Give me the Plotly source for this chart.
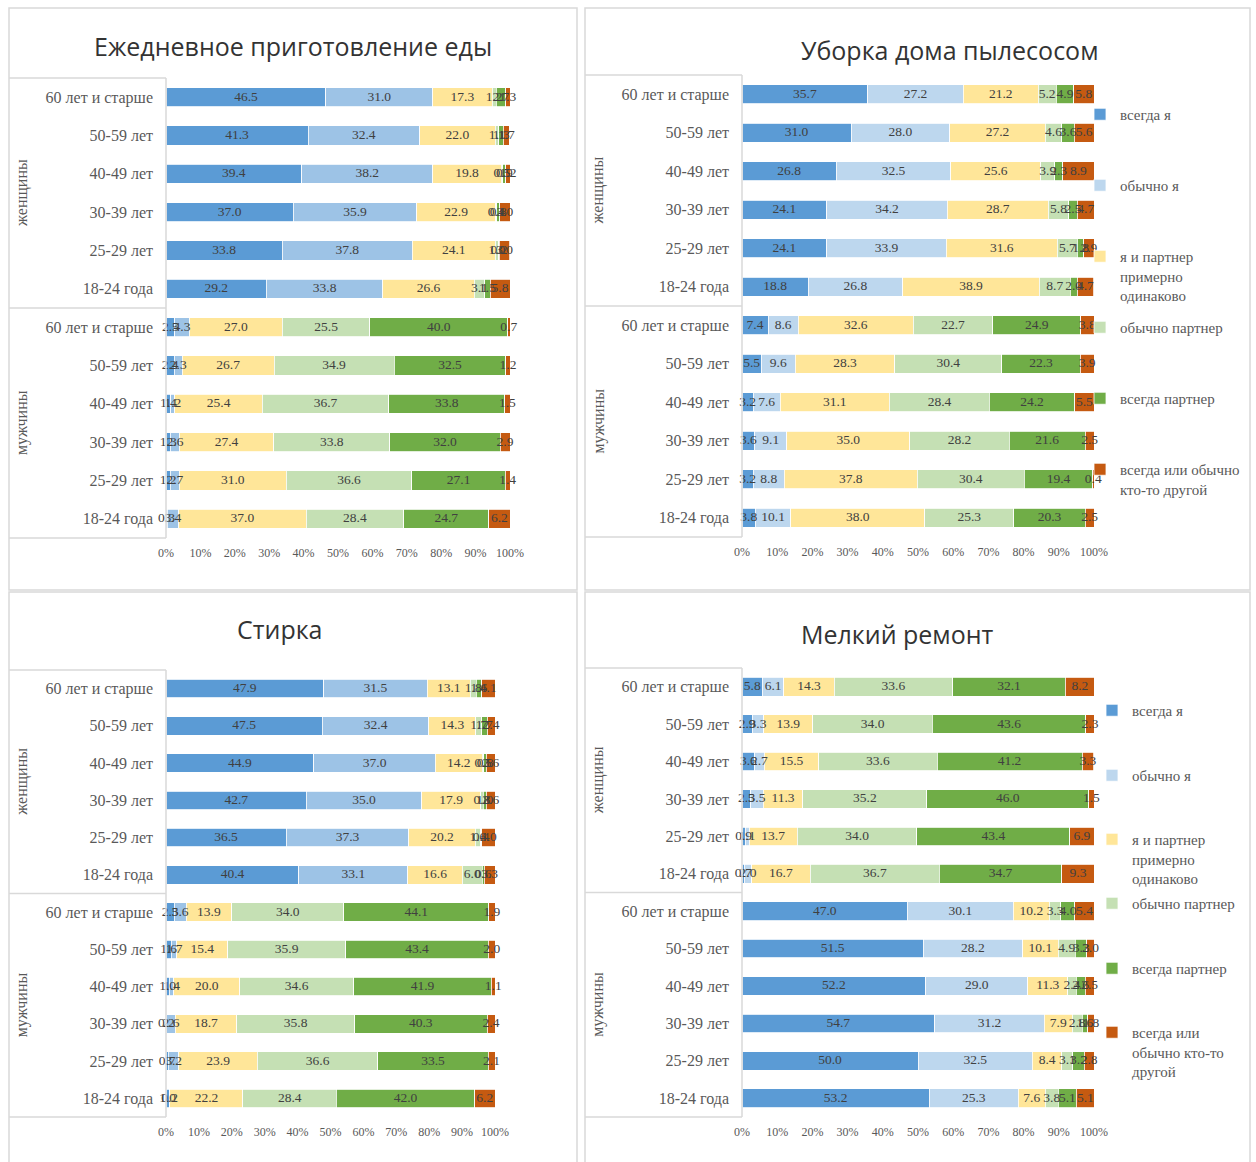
import plotly.graph_objects as go

W, H = 1256, 1162

# ---------------- data ----------------
GENDERS = ["женщины", "мужчины"]
AGES = ["60 лет и старше", "50-59 лет", "40-49 лет", "30-39 лет", "25-29 лет", "18-24 года"]
SERIES = ["всегда я", "обычно я", "я и партнер примерно одинаково",
          "обычно партнер", "всегда партнер", "всегда или обычно кто-то другой"]
LEGEND_P2 = ["всегда я", "обычно я", "я и партнер<br>примерно<br>одинаково",
             "обычно партнер", "всегда партнер", "всегда или обычно<br>кто-то другой"]
LEGEND_P4 = ["всегда я", "обычно я", "я и партнер<br>примерно<br>одинаково",
             "обычно партнер", "всегда партнер", "всегда или<br>обычно кто-то<br>другой"]
TITLES = ["Ежедневное приготовление еды", "Уборка дома пылесосом", "Стирка", "Мелкий ремонт"]
X_TICKS = [0, 10, 20, 30, 40, 50, 60, 70, 80, 90, 100]
X_TICK_TEXT = ["0%", "10%", "20%", "30%", "40%", "50%", "60%", "70%", "80%", "90%", "100%"]

# rows: women 60+ .. 18-24, then men 60+ .. 18-24
cooking_always_me   = [46.5, 41.3, 39.4, 37.0, 33.8, 29.2, 2.5, 2.4, 1.4, 1.3, 1.2, 0.3]
cooking_usually_me  = [31.0, 32.4, 38.2, 35.9, 37.8, 33.8, 4.3, 2.3, 1.2, 2.6, 2.7, 3.4]
cooking_equal       = [17.3, 22.0, 19.8, 22.9, 24.1, 26.6, 27.0, 26.7, 25.4, 27.4, 31.0, 37.0]
cooking_usually_p   = [1.2, 1.1, 0.5, 0.4, 1.0, 3.1, 25.5, 34.9, 36.7, 33.8, 36.6, 28.4]
cooking_always_p    = [2.7, 1.3, 0.9, 0.8, 0.2, 1.5, 40.0, 32.5, 33.8, 32.0, 27.1, 24.7]
cooking_other       = [1.3, 1.7, 1.2, 3.0, 3.0, 5.8, 0.7, 1.2, 1.5, 2.9, 1.4, 6.2]

vacuum_always_me    = [35.7, 31.0, 26.8, 24.1, 24.1, 18.8, 7.4, 5.5, 3.2, 3.6, 3.2, 3.8]
vacuum_usually_me   = [27.2, 28.0, 32.5, 34.2, 33.9, 26.8, 8.6, 9.6, 7.6, 9.1, 8.8, 10.1]
vacuum_equal        = [21.2, 27.2, 25.6, 28.7, 31.6, 38.9, 32.6, 28.3, 31.1, 35.0, 37.8, 38.0]
vacuum_usually_p    = [5.2, 4.6, 3.9, 5.8, 5.7, 8.7, 22.7, 30.4, 28.4, 28.2, 30.4, 25.3]
vacuum_always_p     = [4.9, 3.6, 2.3, 2.5, 1.8, 2.0, 24.9, 22.3, 24.2, 21.6, 19.4, 20.3]
vacuum_other        = [5.8, 5.6, 8.9, 4.7, 2.9, 4.7, 3.8, 3.9, 5.5, 2.5, 0.4, 2.5]

laundry_always_me   = [47.9, 47.5, 44.9, 42.7, 36.5, 40.4, 2.5, 1.6, 1.0, 0.2, 0.7, 1.0]
laundry_usually_me  = [31.5, 32.4, 37.0, 35.0, 37.3, 33.1, 3.6, 1.7, 1.4, 2.6, 3.2, 0.2]
laundry_equal       = [13.1, 14.3, 14.2, 17.9, 20.2, 16.6, 13.9, 15.4, 20.0, 18.7, 23.9, 22.2]
laundry_usually_p   = [1.8, 1.7, 0.5, 0.8, 1.6, 6.0, 34.0, 35.9, 34.6, 35.8, 36.6, 28.4]
laundry_always_p    = [1.6, 1.7, 0.8, 1.0, 0.4, 0.6, 44.1, 43.4, 41.9, 40.3, 33.5, 42.0]
laundry_other       = [4.1, 2.4, 2.6, 2.6, 4.0, 3.3, 1.9, 2.0, 1.1, 2.4, 2.1, 6.2]

repair_always_me    = [5.8, 2.9, 3.6, 2.5, 0.9, 0.7, 47.0, 51.5, 52.2, 54.7, 50.0, 53.2]
repair_usually_me   = [6.1, 3.3, 2.7, 3.5, 1.1, 2.0, 30.1, 28.2, 29.0, 31.2, 32.5, 25.3]
repair_equal        = [14.3, 13.9, 15.5, 11.3, 13.7, 16.7, 10.2, 10.1, 11.3, 7.9, 8.4, 7.6]
repair_usually_p    = [33.6, 34.0, 33.6, 35.2, 34.0, 36.7, 3.3, 4.9, 2.4, 2.8, 3.1, 3.8]
repair_always_p     = [32.1, 43.6, 41.2, 46.0, 43.4, 34.7, 4.0, 3.3, 2.6, 1.6, 3.2, 5.1]
repair_other        = [8.2, 2.3, 3.3, 1.5, 6.9, 9.3, 5.4, 2.0, 2.5, 1.8, 2.8, 5.1]

# ---------------- styling ----------------
BLUE = "#5B9BD5"
LIGHT_BLUE_DARK = "#9DC3E6"
LIGHT_BLUE_PALE = "#BDD7EE"
YELLOW = "#FFE699"
LIGHT_GREEN = "#C5E0B4"
GREEN = "#70AD47"
ORANGE = "#C55A11"
GRID = "#D9D9D9"
TXT = "#595959"
SERIF = "Liberation Serif, Times New Roman, serif"


def px(x):
    return x / W


def py(y):
    return 1 - y / H


panels = [
    dict(data=[cooking_always_me, cooking_usually_me, cooking_equal, cooking_usually_p, cooking_always_p, cooking_other],
         plot=(166, 510, 78, 538), left=9, light=LIGHT_BLUE_DARK, title_xy=(293, 46), legend=None),
    dict(data=[vacuum_always_me, vacuum_usually_me, vacuum_equal, vacuum_usually_p, vacuum_always_p, vacuum_other],
         plot=(742, 1094, 75, 537), left=585, light=LIGHT_BLUE_PALE, title_xy=(950, 50),
         legend=dict(names=LEGEND_P2, text_x=1120, ys=[115, 186, 257, 328, 399, 470], first=1)),
    dict(data=[laundry_always_me, laundry_usually_me, laundry_equal, laundry_usually_p, laundry_always_p, laundry_other],
         plot=(166, 495, 670, 1117), left=9, light=LIGHT_BLUE_DARK, title_xy=(280, 629), legend=None),
    dict(data=[repair_always_me, repair_usually_me, repair_equal, repair_usually_p, repair_always_p, repair_other],
         plot=(742, 1094, 668, 1117), left=585, light=LIGHT_BLUE_PALE, title_xy=(897, 634),
         legend=dict(names=LEGEND_P4, text_x=1132, ys=[711, 776, 840, 904, 969, 1033], first=7)),
]

cat_ids = [f"{g}|{a}" for g in GENDERS for a in AGES]
tick_text = [a for g in GENDERS for a in AGES]

fig = go.Figure()
layout = dict(
    width=W, height=H, margin=dict(l=0, r=0, t=0, b=0),
    paper_bgcolor="white", plot_bgcolor="white", template="none",
    barmode="stack", showlegend=True,
    font=dict(family=SERIF, color=TXT),
)
shapes = []
annotations = []

for k, p in enumerate(panels):
    sfx = "" if k == 0 else str(k + 1)
    x0, x1, y0, y1 = p["plot"]
    colors = [BLUE, p["light"], YELLOW, LIGHT_GREEN, GREEN, ORANGE]
    leg = p["legend"]
    # stacked bars
    for s in range(6):
        tr = dict(
            y=cat_ids, x=p["data"][s], orientation="h", name=SERIES[s],
            xaxis="x" + sfx, yaxis="y" + sfx,
            marker=dict(color=colors[s], line=dict(color="white", width=0.8)),
            width=0.5, hoverinfo="skip", showlegend=False,
        )
        if leg is not None:
            n = leg["first"] + s
            lid = "legend" if n == 1 else f"legend{n}"
            tr.update(showlegend=True, legend=lid, name=leg["names"][s])
            layout[lid] = dict(
                x=px(leg["text_x"] - 40), y=py(leg["ys"][s] - 17),
                xanchor="left", yanchor="top", bgcolor="rgba(0,0,0,0)",
                borderwidth=0, valign="top", itemwidth=30,
                font=dict(family=SERIF, size=15, color=TXT),
                itemclick=False, itemdoubleclick=False,
            )
        fig.add_trace(go.Bar(**tr))
    # data labels on top of all bars (centre of each stacked segment)
    cum = [0.0] * len(cat_ids)
    for s in range(6):
        vals = p["data"][s]
        mids = [c + v / 2 for c, v in zip(cum, vals)]
        cum = [c + v for c, v in zip(cum, vals)]
        fig.add_trace(go.Scatter(
            x=mids, y=cat_ids, mode="text", text=[f"{v:.1f}" for v in vals],
            textposition="middle center", xaxis="x" + sfx, yaxis="y" + sfx,
            textfont=dict(family=SERIF, size=13.5, color="#404040"),
            hoverinfo="skip", showlegend=False, cliponaxis=False,
        ))

    layout["xaxis" + sfx] = dict(
        domain=[px(x0), px(x1)], range=[0, 100], anchor="y" + sfx,
        tickmode="array", tickvals=X_TICKS, ticktext=X_TICK_TEXT,
        showgrid=False, zeroline=False, showline=False, ticks="",
        tickfont=dict(family=SERIF, size=12, color=TXT), ticklabelstandoff=6,
    )
    layout["yaxis" + sfx] = dict(
        domain=[py(y1), py(y0)], anchor="x" + sfx, type="category",
        categoryorder="array", categoryarray=cat_ids,
        range=[len(cat_ids) - 0.5, -0.5], autorange=False,
        tickmode="array", tickvals=cat_ids, ticktext=tick_text,
        showgrid=False, zeroline=False, showline=False, ticks="",
        tickfont=dict(family=SERIF, size=16, color=TXT), ticklabelstandoff=12,
    )

    # panel frame
    right = 577 if k in (0, 2) else 1250
    top = 8 if k < 2 else 592
    bottom = 590 if k < 2 else 1175
    shapes.append(dict(type="rect", xref="paper", yref="paper",
                       x0=px(p["left"]), x1=px(right), y0=py(bottom), y1=py(top),
                       line=dict(color=GRID, width=1.5), fillcolor="rgba(0,0,0,0)", layer="below"))
    # category box
    mid = (y0 + y1) / 2
    for yy in (y0, mid, y1):
        shapes.append(dict(type="line", xref="paper", yref="paper",
                           x0=px(p["left"]), x1=px(x0), y0=py(yy), y1=py(yy),
                           line=dict(color=GRID, width=1.5)))
    shapes.append(dict(type="line", xref="paper", yref="paper",
                       x0=px(x0), x1=px(x0), y0=py(y0), y1=py(y1),
                       line=dict(color=GRID, width=1.5)))
    # group labels
    for g, yd in zip(GENDERS, (0.75, 0.25)):
        annotations.append(dict(text=g, xref="paper", yref=f"y{sfx} domain",
                                x=px(p["left"] + 13), y=yd, textangle=-90, showarrow=False,
                                xanchor="center", yanchor="middle",
                                font=dict(family=SERIF, size=16, color=TXT)))
    # title
    tx, ty = p["title_xy"]
    annotations.append(dict(text=TITLES[k], xref="paper", yref="paper",
                            x=px(tx), y=py(ty), showarrow=False,
                            xanchor="center", yanchor="middle",
                            font=dict(family="Open Sans, Noto Sans, sans-serif", size=25, color="#333333")))

layout["shapes"] = shapes
layout["annotations"] = annotations
fig.update_layout(**layout)

fig.write_html("out.html", config={"displayModeBar": False},
               post_script="document.body.style.margin='0';document.body.style.overflow='hidden';")
